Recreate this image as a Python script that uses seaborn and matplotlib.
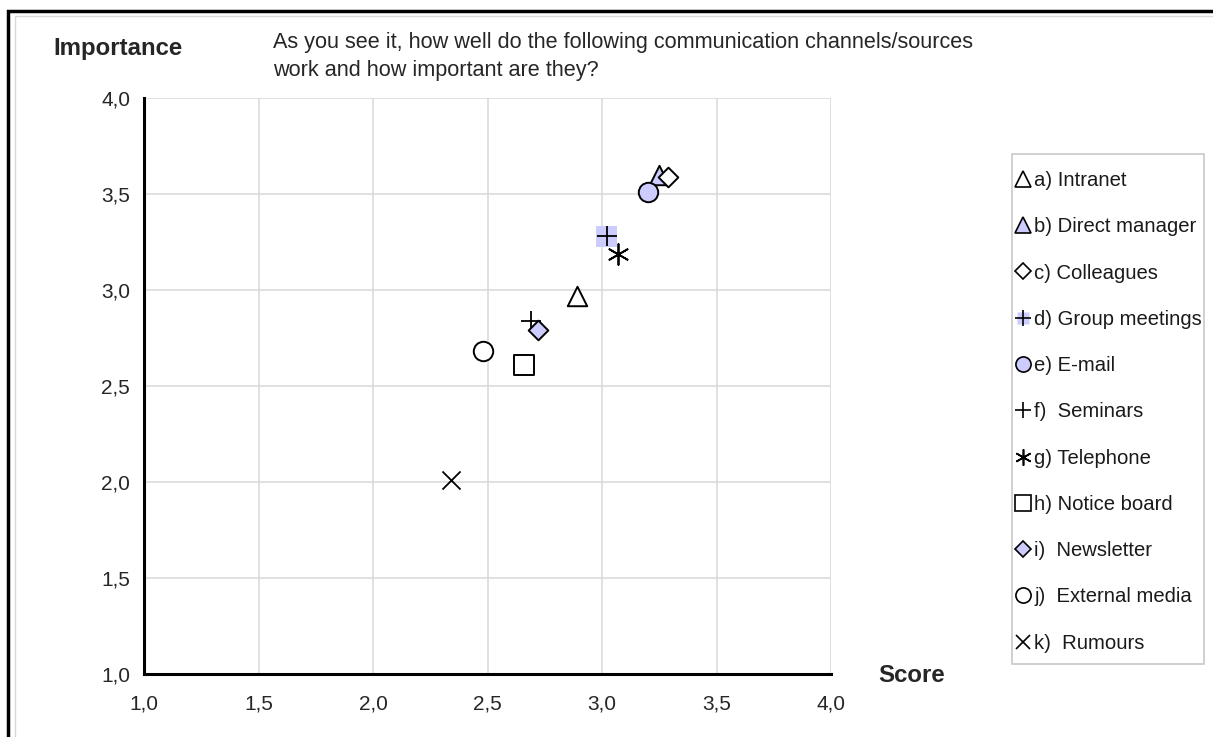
import numpy as np
import pandas as pd
import seaborn as sns
import matplotlib.pyplot as plt
from matplotlib.lines import Line2D
from matplotlib.patches import Rectangle
from matplotlib.ticker import FuncFormatter, MultipleLocator
from matplotlib.legend_handler import HandlerTuple

channels = ['a) Intranet', 'b) Direct manager', 'c) Colleagues', 'd) Group meetings',
            'e) E-mail', 'f)  Seminars', 'g) Telephone', 'h) Notice board',
            'i)  Newsletter', 'j)  External media', 'k)  Rumours']
score = [2.89, 3.25, 3.29, 3.02, 3.20, 2.69, 3.07, 2.66, 2.72, 2.48, 2.34]
importance = [2.97, 3.60, 3.59, 3.28, 3.51, 2.84, 3.19, 2.61, 2.79, 2.68, 2.01]

df = pd.DataFrame({'channel': channels, 'score': score, 'importance': importance})

lav = '#CCCCFF'
# marker, face colour, size (points) for each channel
styles = [
    ('^', 'white', 14),
    ('^', lav, 14),
    ('D', 'white', 10),
    ('+', 'black', 15),
    ('o', lav, 14),
    ('+', 'black', 15),
    ((6, 2, 0), 'black', 15),
    ('s', 'white', 14),
    ('D', lav, 10),
    ('o', 'white', 14),
    ('x', 'black', 13),
]

sns.set_style('white')
plt.rcParams['font.family'] = ['Liberation Sans', 'DejaVu Sans']

W, H = 1213, 737
fig = plt.figure(figsize=(W / 100, H / 100), dpi=100)
ax = fig.add_axes([144 / W, 1 - 674 / H, 687 / W, 576 / H])

# frame around the whole chart
fig.patches.append(Rectangle((8 / W, -0.05), 1.1, 1 - 11 / H + 0.05,
                             transform=fig.transFigure, fill=False,
                             edgecolor='black', linewidth=2.5, zorder=0))
fig.patches.append(Rectangle((15 / W, -0.05), 1.1, 1 - 16 / H + 0.05,
                             transform=fig.transFigure, fill=False,
                             edgecolor='#d9d9d9', linewidth=1, zorder=0))
# legend box
fig.patches.append(Rectangle((1012 / W, 1 - 664 / H), 192 / W, 510 / H,
                             transform=fig.transFigure, fill=False,
                             edgecolor='#c8c8c8', linewidth=1.2, zorder=0))

# group meetings has a lavender square behind the plus
d_row = df.iloc[3]
sns.scatterplot(x=[d_row.score], y=[d_row.importance], marker='s', s=15 ** 2,
                color=lav, edgecolor='none', ax=ax, zorder=3, legend=False)

for i, row in df.iterrows():
    m, fc, ms = styles[i]
    if fc == 'black':
        sns.scatterplot(x=[row.score], y=[row.importance], marker=m, s=ms ** 2,
                        color='black', linewidth=1.3, ax=ax, zorder=4, legend=False)
    else:
        sns.scatterplot(x=[row.score], y=[row.importance], marker=m, s=ms ** 2,
                        color=fc, edgecolor='black', linewidth=1.4, ax=ax,
                        zorder=4, legend=False)

ax.set_xlim(1, 4)
ax.set_ylim(1, 4)
ax.xaxis.set_major_locator(MultipleLocator(0.5))
ax.yaxis.set_major_locator(MultipleLocator(0.5))
fmt = FuncFormatter(lambda v, p: f'{v:.1f}'.replace('.', ','))
ax.xaxis.set_major_formatter(fmt)
ax.yaxis.set_major_formatter(fmt)
ax.grid(True, color='#d9d9d9', linewidth=1.1)
ax.set_axisbelow(True)
for side in ['top', 'right']:
    ax.spines[side].set_visible(False)
for side in ['left', 'bottom']:
    ax.spines[side].set_color('black')
    ax.spines[side].set_linewidth(2.2)
ax.tick_params(axis='both', direction='out', length=5, width=2.2, color='black',
               labelsize=15)
ax.tick_params(axis='x', pad=10)
ax.tick_params(axis='y', pad=5)
ax.set_xlabel('')
ax.set_ylabel('')

fig.text(53 / W, 1 - 48 / H, 'Importance', fontsize=17.3, fontweight='bold',
         va='center', ha='left')
fig.text(878 / W, 1 - 675 / H, 'Score', fontsize=17.3, fontweight='bold',
         va='center', ha='left')
fig.text(273 / W, 1 - 48 / H,
         'As you see it, how well do the following communication channels/sources',
         fontsize=15.6, va='baseline', ha='left')
fig.text(273 / W, 1 - 76 / H, 'work and how important are they?',
         fontsize=15.6, va='baseline', ha='left')

# legend with small markers
handles = []
for i, (m, fc, ms) in enumerate(styles):
    if fc == 'black':
        h = Line2D([], [], marker=m, linestyle='none', color='black',
                   markersize=ms * 0.78, markeredgewidth=1.2)
    else:
        h = Line2D([], [], marker=m, linestyle='none', markerfacecolor=fc,
                   markeredgecolor='black', markersize=ms * 0.78, markeredgewidth=1.2)
    if i == 3:
        sq = Line2D([], [], marker='s', linestyle='none', color=lav,
                    markeredgecolor='none', markersize=9)
        h = (sq, h)
    handles.append(h)

leg = ax.legend(handles, channels, loc='upper left',
                bbox_to_anchor=(1016 / W, 1 - 171 / H),
                bbox_transform=fig.transFigure, fontsize=14.6,
                frameon=False, handlelength=0.65, handletextpad=0.25,
                labelspacing=1.345, borderpad=0, borderaxespad=0,
                handler_map={tuple: HandlerTuple(ndivide=1)})
for t in leg.get_texts():
    t.set_color('#1a1a1a')

fig.savefig('out.png', dpi=100)
